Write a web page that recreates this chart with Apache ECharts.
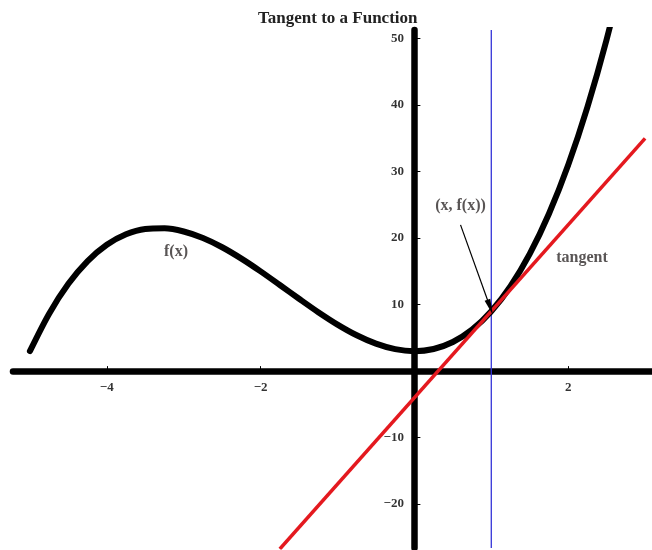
<!DOCTYPE html>
<html>
<head>
<meta charset="utf-8">
<script src="https://cdn.jsdelivr.net/npm/echarts@6/dist/echarts.min.js"></script>
<style>
  html, body { margin: 0; padding: 0; background: #fff; }
  #chart { width: 652px; height: 550px; }
</style>
</head>
<body>
<div id="chart"></div>
<script>
// f(x) sampled along the curve
const fnX = [-5, -4.75, -4.5, -4.25, -4, -3.75, -3.5, -3.25, -3, -2.75, -2.5, -2.25, -2, -1.75, -1.5, -1.25,
             -1, -0.75, -0.5, -0.25, 0, 0.25, 0.5, 0.75, 1, 1.25, 1.5, 1.75, 2, 2.25, 2.5, 2.75];
const fnY = [3, 8.64, 13.13, 16.55, 19, 20.58, 21.38, 21.48, 21, 20.02, 18.63, 16.92, 15, 12.95, 10.88, 8.86,
             7, 5.39, 4.13, 3.3, 3, 3.33, 4.38, 6.23, 9, 12.77, 17.63, 23.67, 31, 39.7, 49.88, 61.61];

// tangent line through (1, f(1)) with slope 13
const tangentX = [-1.75, 3];
const tangentY = [-26.75, 35];
// vertical guide at the point of tangency, spanning the plot
const guideX = [1, 1];
const guideY = [-26.6, 51.3];

// axis ticks
const xTicks = [-4, -2, 2];
const yTicks = [-20, -10, 10, 20, 30, 40, 50];

// annotation texts and their anchor points (data units)
const noteText = ['f(x)', '(x, f(x))', 'tangent'];
const noteX = [-3.1, 0.6, 2.18];
const noteY = [18, 24.9, 17.1];
// arrow from the "(x, f(x))" label to the point of tangency
const arrowFrom = [0.6, 22.0];
const arrowTo = [0.985, 9.6];

const serif = '"Liberation Serif", "DejaVu Serif", serif';
const minus = v => String(v).replace('-', '\u2212');
const tickFont = { fontFamily: serif, fontWeight: 'bold', fontSize: 13, color: '#000' };

const chart = echarts.init(document.getElementById('chart'), null, { renderer: 'canvas' });

const axisLine = { show: true, onZero: true, lineStyle: { color: '#000', width: 6.5, cap: 'round' } };

// tick labels are placed on the axes that cross at the origin
const labelSeries = (points, pos, dist) => ({
  type: 'scatter', symbolSize: 1, silent: true, z: 6,
  itemStyle: { color: 'rgba(0,0,0,0)' },
  data: points,
  label: Object.assign({ show: true, position: pos, distance: dist,
    formatter: p => minus(p.name) }, tickFont)
});

chart.setOption({
  animation: false,
  backgroundColor: '#fff',
  title: {
    text: 'Tangent to a Function',
    left: 253, top: 5,
    textStyle: { fontFamily: serif, fontWeight: 'bold', fontSize: 17, color: '#222' }
  },
  grid: { left: 13, right: 0, top: 30, bottom: 2, containLabel: false, outerBoundsMode: 'none' },
  xAxis: {
    type: 'value', min: -5.22, max: 3.09,
    axisLine: axisLine,
    splitLine: { show: false },
    axisTick: { show: true, inside: true, length: 5, customValues: xTicks, lineStyle: { color: '#000', width: 1 } },
    axisLabel: { show: false }
  },
  yAxis: {
    type: 'value', min: -26.6, max: 51.3,
    axisLine: axisLine,
    splitLine: { show: false },
    axisTick: { show: true, inside: true, length: 6, customValues: yTicks, lineStyle: { color: '#000', width: 1 } },
    axisLabel: { show: false }
  },
  series: [
    {
      name: 'guide', type: 'line', showSymbol: false, silent: true, z: 1,
      data: guideX.map((x, i) => [x, guideY[i]]),
      lineStyle: { color: '#3434d8', width: 1.3 }
    },
    {
      name: 'f(x)', type: 'line', smooth: 0.3, showSymbol: false, clip: true,
      data: fnX.map((x, i) => [x, fnY[i]]),
      lineStyle: { color: '#000', width: 6, cap: 'round', join: 'round' },
      z: 3
    },
    {
      name: 'tangent', type: 'line', showSymbol: false, clip: true,
      data: tangentX.map((x, i) => [x, tangentY[i]]),
      lineStyle: { color: '#e4191f', width: 3.5 },
      z: 4
    },
    {
      type: 'line', data: [], z: 5, silent: true,
      markLine: {
        silent: true, animation: false,
        symbol: ['none', 'path://M5,0 L10,28 L0,28 Z'], symbolSize: [6, 16],
        label: { show: false },
        lineStyle: { color: '#000', width: 1.2, type: 'solid' },
        data: [[{ coord: arrowFrom }, { coord: arrowTo }]]
      }
    },
    labelSeries(xTicks.map(t => ({ value: [t, 0], name: String(t) })), 'bottom', 10),
    labelSeries(yTicks.map(t => ({ value: [0, t], name: String(t) })), 'left', 10),
    {
      type: 'scatter', symbolSize: 1, silent: true, z: 6,
      itemStyle: { color: 'rgba(0,0,0,0)' },
      data: noteText.map((t, i) => ({ value: [noteX[i], noteY[i]], name: t })),
      label: {
        show: true, position: 'inside', align: 'center', verticalAlign: 'middle',
        formatter: p => p.name,
        fontFamily: serif, fontWeight: 'bold', fontSize: 16,
        color: '#2f2a2a'
      }
    }
  ]
});
</script>
</body>
</html>
